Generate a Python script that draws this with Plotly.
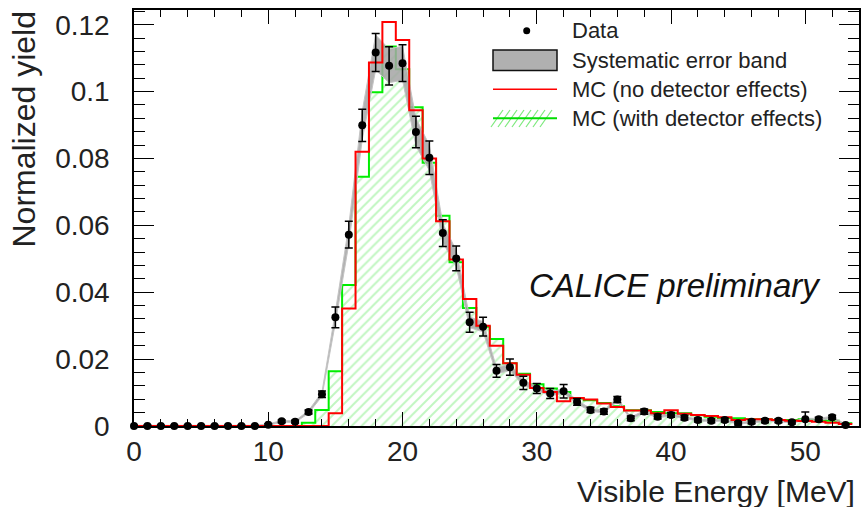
import plotly.graph_objects as go

# ---------------- data ----------------
energy = list(range(0, 54))  # bin centres [MeV]

data_yield = [0, 0, 0, 0, 0, 0, 0, 0, 0, 0,
              0.0004, 0.0014, 0.0013, 0.0042, 0.0095, 0.0325, 0.0572, 0.0899, 0.1117, 0.1077,
              0.1085, 0.0879, 0.0802, 0.0577, 0.0501, 0.0310, 0.0297, 0.0165, 0.0176, 0.0129,
              0.0112, 0.0097, 0.0104, 0.0072, 0.0048, 0.0043, 0.0079, 0.0023, 0.0043, 0.0028,
              0.0033, 0.0025, 0.0018, 0.0016, 0.0018, 0.0008, 0.0013, 0.0016, 0.0016, 0.0011,
              0.0020, 0.0020, 0.0026, 0.0003]

data_err = [0.0002, 0.0002, 0.0002, 0.0002, 0.0002, 0.0002, 0.0002, 0.0002, 0.0002, 0.0002,
            0.0003, 0.0004, 0.0004, 0.0006, 0.0010, 0.0031, 0.0040, 0.0048, 0.0057, 0.0057,
            0.0055, 0.0047, 0.0050, 0.0040, 0.0037, 0.0030, 0.0028, 0.0019, 0.0024, 0.0020,
            0.0015, 0.0015, 0.0020, 0.0010, 0.0008, 0.0008, 0.0009, 0.0007, 0.0008, 0.0007,
            0.0007, 0.0007, 0.0006, 0.0006, 0.0006, 0.0005, 0.0006, 0.0006, 0.0006, 0.0005,
            0.0022, 0.0006, 0.0006, 0.0004]

syst_frac = 0.045  # relative systematic uncertainty band

mc_no_det = [0, 0, 0, 0, 0, 0, 0, 0, 0, 0,
             0, 0, 0, 0, 0, 0.0038, 0.0351, 0.0820, 0.1087, 0.1208,
             0.1154, 0.0944, 0.0800, 0.0612, 0.0498, 0.0380, 0.0300, 0.0240, 0.0188, 0.0153,
             0.0114, 0.0102, 0.0074, 0.0084, 0.0079, 0.0067, 0.0057, 0.0046, 0.0046, 0.0038,
             0.0047, 0.0037, 0.0033, 0.0030, 0.0026, 0.0018, 0.0020, 0.0020, 0.0018, 0.0016,
             0.0015, 0.0013, 0.0010, 0.0006]

mc_det = [0, 0, 0, 0, 0, 0, 0, 0, 0, 0,
          0, 0, 0, 0.0010, 0.0048, 0.0164, 0.0422, 0.0745, 0.0998, 0.1135,
          0.1067, 0.0953, 0.0787, 0.0629, 0.0490, 0.0353, 0.0297, 0.0260, 0.0188, 0.0156,
          0.0125, 0.0112, 0.0102, 0.0082, 0.0077, 0.0069, 0.0059, 0.0047, 0.0047, 0.0042,
          0.0038, 0.0038, 0.0032, 0.0028, 0.0023, 0.0023, 0.0020, 0.0020, 0.0018, 0.0018,
          0.0020, 0.0018, 0.0016, 0.0008]

x_ticks = [0, 10, 20, 30, 40, 50]
y_ticks = [0, 0.02, 0.04, 0.06, 0.08, 0.1, 0.12]

legend_labels = ["Data", "Systematic error band", "MC (no detector effects)", "MC (with detector effects)"]
x_title = "Visible Energy [MeV]"
y_title = "Normalized yield"
tag_text = "CALICE preliminary"

# ---------------- layout helpers ----------------
FONT = "Liberation Sans, Arial, sans-serif"
W, H = 861, 507
# plot area in screen pixels: left 134, right 859, top 10, bottom 426
SL, SR, ST, SB = 134, 859, 10, 426
L, T = SL, ST
R, B = W - SR, H - SB
PW, PH = SR - SL, SB - ST


def step_xy(centres, vals):
    xs = [c - 0.5 for c in centres] + [centres[-1] + 0.5]
    ys = list(vals) + [vals[-1]]
    return xs, ys


def px(xp):  # screen px -> paper x
    return (xp - SL) / PW


def py(yp):  # screen px -> paper y
    return (SB - yp) / PH


fig = go.Figure()

# MC with detector effects: hatched green
gx, gy = step_xy(energy, mc_det)
fig.add_trace(go.Scatter(
    x=gx, y=gy, mode="lines", line=dict(shape="hv", color="#00ee00", width=2),
    fill="tozeroy", fillcolor="rgba(0,0,0,0)",
    fillpattern=dict(shape="/", fgcolor="rgba(90,230,90,0.75)", bgcolor="rgba(255,255,255,0)",
                     size=7, solidity=0.28),
    showlegend=False, hoverinfo="skip"))

# systematic band
upper = [v * (1 + syst_frac) + 0.0002 for v in data_yield]
lower = [max(v * (1 - syst_frac) - 0.0002, 0) for v in data_yield]
fig.add_trace(go.Scatter(
    x=energy + energy[::-1], y=upper + lower[::-1], mode="lines",
    line=dict(color="#c4c4c4", width=1), fill="toself", fillcolor="rgba(165,165,165,0.85)",
    showlegend=False, hoverinfo="skip"))

# MC no detector effects: red step line
rx, ry = step_xy(energy, mc_no_det)
fig.add_trace(go.Scatter(
    x=rx, y=ry, mode="lines", line=dict(shape="hv", color="#ff0000", width=2),
    showlegend=False, hoverinfo="skip"))

# data points
fig.add_trace(go.Scatter(
    x=energy, y=data_yield, mode="markers",
    marker=dict(color="black", size=8),
    error_y=dict(type="data", array=data_err, color="black", thickness=1.5, width=4),
    cliponaxis=False, showlegend=False))

axis_common = dict(showline=True, linecolor="black", linewidth=1.5, mirror="ticks",
                   ticks="inside", tickcolor="black", tickwidth=1.2, showgrid=False,
                   zeroline=False, automargin=False,
                   tickfont=dict(family=FONT, size=28, color="#222"))

fig.update_xaxes(range=[0, 54], tickvals=x_ticks, ticklen=14,
                 minor=dict(dtick=2, tick0=0, ticks="inside", ticklen=7, tickcolor="black", tickwidth=1.2),
                 ticklabelstandoff=0, **axis_common)
fig.update_yaxes(range=[0, 0.1244], tickvals=y_ticks, ticklen=20,
                 minor=dict(dtick=0.004, tick0=0, ticks="inside", ticklen=11, tickcolor="black", tickwidth=1.2),
                 ticklabelstandoff=17, **axis_common)

shapes = []
annotations = []

# legend (custom, in paper coordinates)
rows_y = [30.7, 60.3, 89.3, 118.3]
r = 3.5
shapes.append(dict(type="circle", xref="paper", yref="paper",
                   x0=px(526.7 - r), x1=px(526.7 + r), y0=py(rows_y[0] + r), y1=py(rows_y[0] - r),
                   fillcolor="black", line=dict(color="black", width=0)))
shapes.append(dict(type="rect", xref="paper", yref="paper",
                   x0=px(493), x1=px(557), y0=py(70.5), y1=py(50),
                   fillcolor="#b0b0b0", line=dict(color="#111", width=1.5)))
shapes.append(dict(type="line", xref="paper", yref="paper",
                   x0=px(493), x1=px(557), y0=py(rows_y[2]), y1=py(rows_y[2]),
                   line=dict(color="#ff0000", width=1.5)))
for xs in range(491, 545, 7):
    shapes.append(dict(type="line", xref="paper", yref="paper",
                       x0=px(xs), x1=px(xs + 12), y0=py(127), y1=py(110),
                       line=dict(color="rgba(80,225,80,0.75)", width=1.2)))
shapes.append(dict(type="line", xref="paper", yref="paper",
                   x0=px(493), x1=px(557), y0=py(rows_y[3]), y1=py(rows_y[3]),
                   line=dict(color="#00dd00", width=2)))

for lab, yy in zip(legend_labels, rows_y):
    annotations.append(dict(text=lab, xref="paper", yref="paper", x=px(570), y=py(yy),
                            xanchor="left", yanchor="middle", showarrow=False,
                            font=dict(family=FONT, size=22, color="#222")))

annotations.append(dict(text="<i>" + tag_text + "</i>", xref="paper", yref="paper",
                        x=px(674.5), y=py(285), xanchor="center", yanchor="middle", showarrow=False,
                        font=dict(family=FONT, size=33, color="#111")))
annotations.append(dict(text=x_title, xref="paper", yref="paper", x=px(857), y=py(491.5),
                        xanchor="right", yanchor="middle", showarrow=False,
                        font=dict(family=FONT, size=30, color="#222")))
annotations.append(dict(text=y_title, xref="paper", yref="paper", x=px(24), y=py(9),
                        xanchor="center", yanchor="top", textangle=-90, showarrow=False,
                        font=dict(family=FONT, size=32, color="#222")))

fig.update_layout(width=W, height=H, margin=dict(l=L, r=R, t=T, b=B, autoexpand=False),
                  paper_bgcolor="white", plot_bgcolor="white",
                  shapes=shapes, annotations=annotations, showlegend=False)

fig.write_html("out.html", config={"displayModeBar": False},
               post_script="document.body.style.margin='0';document.body.style.overflow='hidden';")
